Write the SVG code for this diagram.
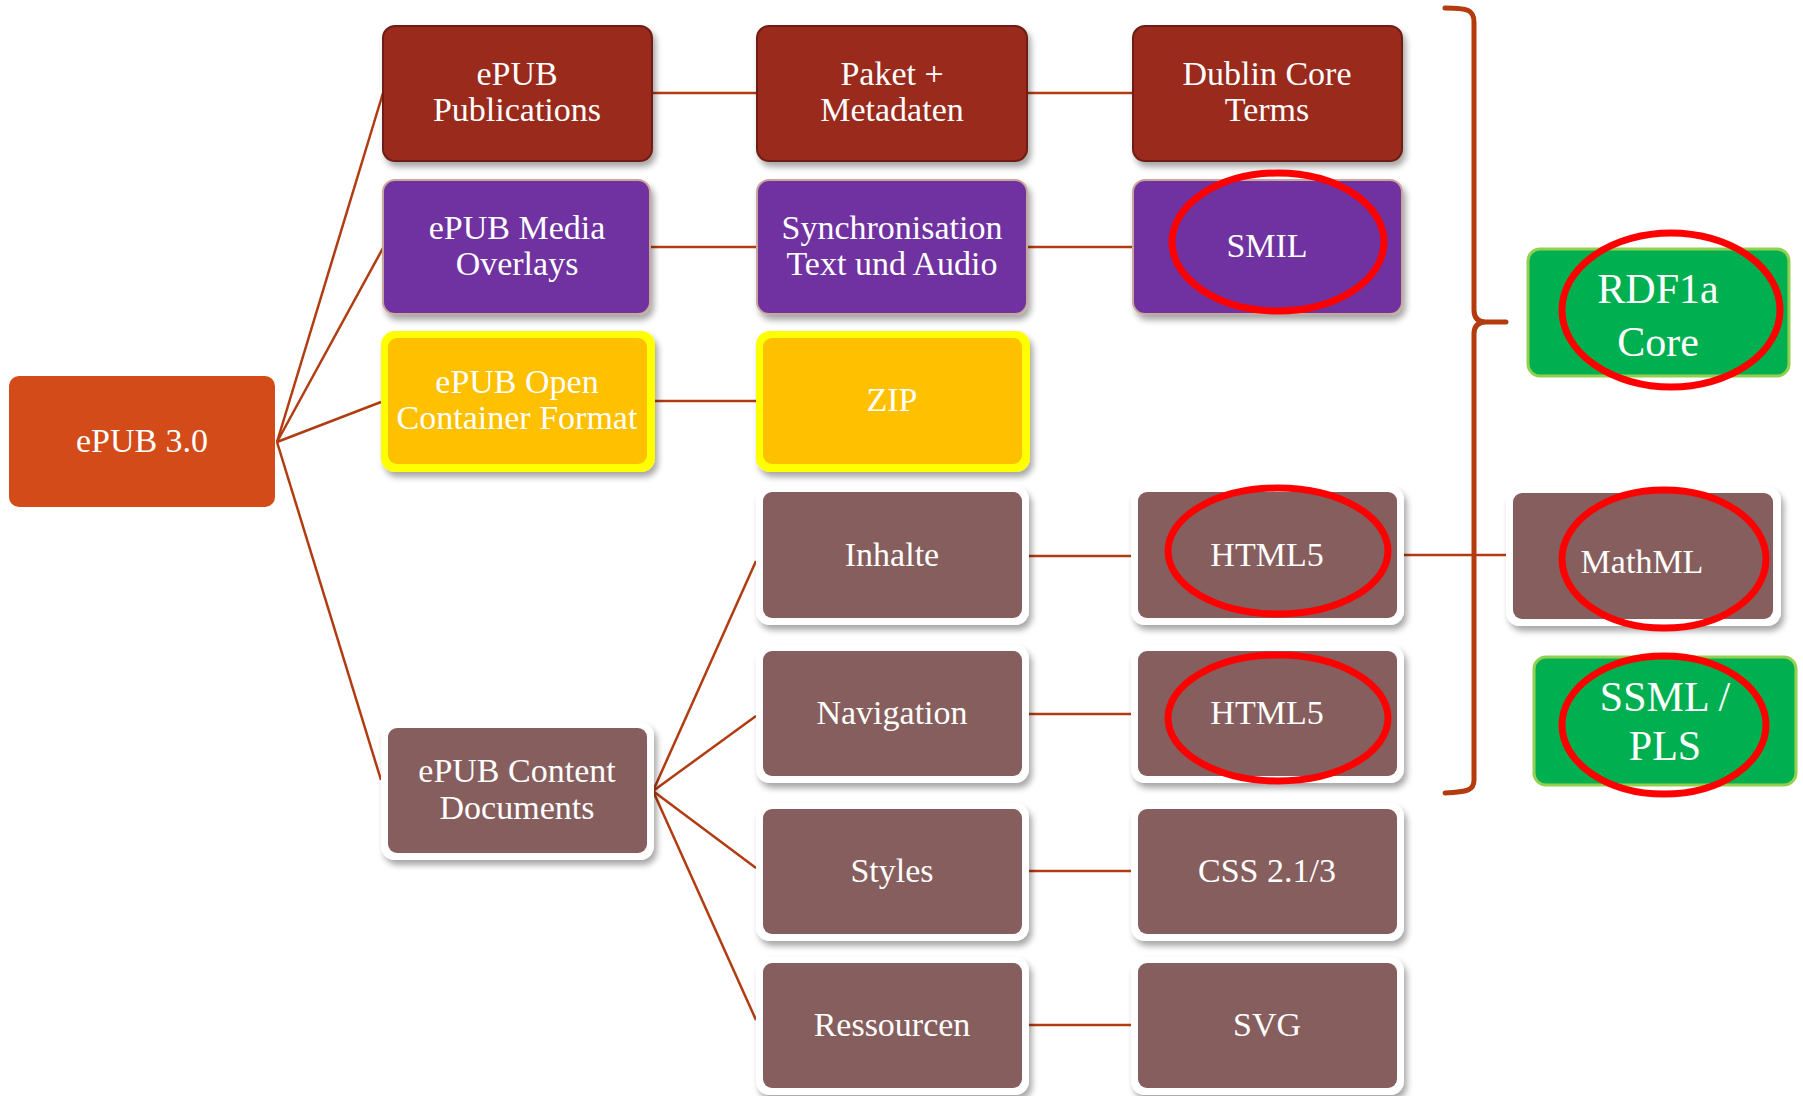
<svg xmlns="http://www.w3.org/2000/svg" width="1803" height="1096" viewBox="0 0 1803 1096">
  <defs>
    <filter id="shadow" x="-10%" y="-10%" width="125%" height="130%">
      <feDropShadow dx="3" dy="5" stdDeviation="3" flood-color="#000" flood-opacity="0.35"/>
    </filter>
  </defs>
  <style>
    text { font-family: "Liberation Serif", "Times New Roman", serif; fill: #ffffff; font-size: 34px; text-anchor: middle; }
    .big { font-size: 42px; }
    .conn { stroke: #B23C12; stroke-width: 2.5; fill: none; }
    .brace { stroke: #B33B0E; stroke-width: 5; fill: none; stroke-linecap: round; stroke-linejoin: round; }
    .root { fill: #D24B18; }
    .red { fill: #992B1F; stroke: #701C13; stroke-width: 2; filter: url(#shadow); }
    .purple { fill: #7030A0; stroke: #C8A89A; stroke-width: 2; filter: url(#shadow); }
    .yellowframe { fill: #FFFF00; filter: url(#shadow); }
    .orange { fill: #FFC000; }
    .whiteframe { fill: #ffffff; filter: url(#shadow); }
    .mauve { fill: #865E5D; }
    .green { fill: #00B050; stroke: #92D050; stroke-width: 3; }
    .mark { fill: none; stroke: #FF0000; stroke-width: 7; }
  </style>

  <!-- connectors -->
  <g id="connectors">
    <line class="conn" x1="277" y1="442" x2="383" y2="93"/>
    <line class="conn" x1="277" y1="442" x2="383" y2="248"/>
    <line class="conn" x1="277" y1="442" x2="381" y2="402"/>
    <line class="conn" x1="277" y1="442" x2="381" y2="780"/>
    <line class="conn" x1="652" y1="93" x2="757" y2="93"/>
    <line class="conn" x1="1027" y1="93" x2="1133" y2="93"/>
    <line class="conn" x1="650" y1="247" x2="757" y2="247"/>
    <line class="conn" x1="1027" y1="247" x2="1133" y2="247"/>
    <line class="conn" x1="655" y1="401" x2="756" y2="401"/>
    <line class="conn" x1="653" y1="791" x2="756" y2="561"/>
    <line class="conn" x1="653" y1="791" x2="756" y2="716"/>
    <line class="conn" x1="653" y1="791" x2="756" y2="868"/>
    <line class="conn" x1="653" y1="791" x2="756" y2="1020"/>
    <line class="conn" x1="1029" y1="556" x2="1131" y2="556"/>
    <line class="conn" x1="1029" y1="714" x2="1131" y2="714"/>
    <line class="conn" x1="1029" y1="871" x2="1131" y2="871"/>
    <line class="conn" x1="1029" y1="1025" x2="1131" y2="1025"/>
    <line class="conn" x1="1404" y1="555" x2="1506" y2="555"/>
    <!-- curly brace grouping the standards column -->
    <path class="brace" d="M1445,8 C1468,8 1474,10 1474,22 L1474,310 Q1474,322 1486,322 L1506,322 M1486,322 Q1474,322 1474,334 L1474,780 C1474,790 1468,792 1445,793"/>
  </g>

  <g id="epub30">
    <rect class="root" x="9" y="376" width="266" height="131" rx="10"/>
    <text x="142" y="452">ePUB 3.0</text>
  </g>

  <g id="publications">
    <rect class="red" x="383" y="26" width="269" height="135" rx="12"/>
    <text x="517" y="85">ePUB</text>
    <text x="517" y="121">Publications</text>
  </g>
  <g id="paket">
    <rect class="red" x="757" y="26" width="270" height="135" rx="12"/>
    <text x="892" y="85">Paket +</text>
    <text x="892" y="121">Metadaten</text>
  </g>
  <g id="dublin-core">
    <rect class="red" x="1133" y="26" width="269" height="135" rx="12"/>
    <text x="1267" y="85">Dublin Core</text>
    <text x="1267" y="121">Terms</text>
  </g>

  <g id="media-overlays">
    <rect class="purple" x="383" y="180" width="267" height="134" rx="12"/>
    <text x="517" y="239">ePUB Media</text>
    <text x="517" y="275">Overlays</text>
  </g>
  <g id="synchronisation">
    <rect class="purple" x="757" y="180" width="270" height="134" rx="12"/>
    <text x="892" y="239">Synchronisation</text>
    <text x="892" y="275">Text und Audio</text>
  </g>
  <g id="smil">
    <rect class="purple" x="1133" y="180" width="269" height="134" rx="12"/>
    <text x="1267" y="257">SMIL</text>
    <ellipse class="mark" cx="1278" cy="242" rx="106" ry="69"/>
  </g>

  <g id="ocf">
    <rect class="yellowframe" x="381" y="331" width="274" height="141" rx="14"/>
    <rect class="orange" x="388" y="338" width="259" height="126" rx="9"/>
    <text x="517" y="393">ePUB Open</text>
    <text x="517" y="429">Container Format</text>
  </g>
  <g id="zip">
    <rect class="yellowframe" x="756" y="331" width="274" height="141" rx="14"/>
    <rect class="orange" x="763" y="338" width="259" height="126" rx="9"/>
    <text x="892" y="411">ZIP</text>
  </g>

  <g id="content-documents">
    <rect class="whiteframe" x="381" y="722" width="273" height="138" rx="14"/>
    <rect class="mauve" x="388" y="728" width="259" height="125" rx="9"/>
    <text x="517" y="782">ePUB Content</text>
    <text x="517" y="819">Documents</text>
  </g>

  <g id="inhalte">
    <rect class="whiteframe" x="756" y="486" width="273" height="139" rx="14"/>
    <rect class="mauve" x="763" y="492" width="259" height="126" rx="9"/>
    <text x="892" y="566">Inhalte</text>
  </g>
  <g id="navigation">
    <rect class="whiteframe" x="756" y="645" width="273" height="138" rx="14"/>
    <rect class="mauve" x="763" y="651" width="259" height="125" rx="9"/>
    <text x="892" y="724">Navigation</text>
  </g>
  <g id="styles">
    <rect class="whiteframe" x="756" y="803" width="273" height="138" rx="14"/>
    <rect class="mauve" x="763" y="809" width="259" height="125" rx="9"/>
    <text x="892" y="882">Styles</text>
  </g>
  <g id="ressourcen">
    <rect class="whiteframe" x="756" y="957" width="273" height="138" rx="14"/>
    <rect class="mauve" x="763" y="963" width="259" height="125" rx="9"/>
    <text x="892" y="1036">Ressourcen</text>
  </g>

  <g id="html5-inhalte">
    <rect class="whiteframe" x="1131" y="486" width="273" height="139" rx="14"/>
    <rect class="mauve" x="1138" y="492" width="259" height="126" rx="9"/>
    <text x="1267" y="566">HTML5</text>
    <ellipse class="mark" cx="1278" cy="551" rx="110" ry="63"/>
  </g>
  <g id="html5-navigation">
    <rect class="whiteframe" x="1131" y="645" width="273" height="138" rx="14"/>
    <rect class="mauve" x="1138" y="651" width="259" height="125" rx="9"/>
    <text x="1267" y="724">HTML5</text>
    <ellipse class="mark" cx="1278" cy="718" rx="110" ry="63"/>
  </g>
  <g id="css">
    <rect class="whiteframe" x="1131" y="803" width="273" height="138" rx="14"/>
    <rect class="mauve" x="1138" y="809" width="259" height="125" rx="9"/>
    <text x="1267" y="882">CSS 2.1/3</text>
  </g>
  <g id="svg">
    <rect class="whiteframe" x="1131" y="957" width="273" height="138" rx="14"/>
    <rect class="mauve" x="1138" y="963" width="259" height="125" rx="9"/>
    <text x="1267" y="1036">SVG</text>
  </g>

  <g id="rdfa-core">
    <rect class="green" x="1528" y="249" width="261" height="127" rx="12"/>
    <text class="big" x="1658" y="303">RDF1a</text>
    <text class="big" x="1658" y="356">Core</text>
    <ellipse class="mark" cx="1671" cy="310" rx="109" ry="77"/>
  </g>
  <g id="mathml">
    <rect class="whiteframe" x="1506" y="487" width="275" height="139" rx="14"/>
    <rect class="mauve" x="1513" y="493" width="260" height="126" rx="9"/>
    <text x="1642" y="573">MathML</text>
    <ellipse class="mark" cx="1664" cy="559" rx="102" ry="69"/>
  </g>
  <g id="ssml-pls">
    <rect class="green" x="1534" y="657" width="262" height="128" rx="12"/>
    <text class="big" x="1665" y="711">SSML /</text>
    <text class="big" x="1665" y="760">PLS</text>
    <ellipse class="mark" cx="1664" cy="725" rx="102" ry="69"/>
  </g>
</svg>
